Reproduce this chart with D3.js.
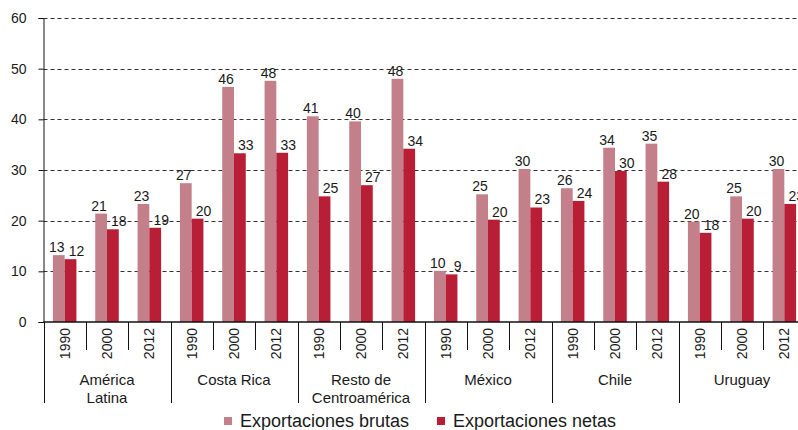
<!DOCTYPE html>
<html>
<head>
<meta charset="utf-8">
<script src="https://cdn.jsdelivr.net/npm/d3@7"></script>
<style>
  body { margin: 0; background: #fff; }
  text { font-family: "Liberation Sans", Arial, sans-serif; fill: #1a1a1a; }
</style>
</head>
<body>
<div id="chart"></div>
<script>
// data
let groups = ["América Latina", "Costa Rica", "Resto de Centroamérica", "México", "Chile", "Uruguay"];
let group_lines = [["América", "Latina"], ["Costa Rica"], ["Resto de", "Centroamérica"], ["México"], ["Chile"], ["Uruguay"]];
let years = ["1990", "2000", "2012"];
let series = ["Exportaciones brutas", "Exportaciones netas"];
let brutas = [13.2, 21.4, 23.3, 27.4, 46.4, 47.6, 40.6, 39.6, 48.0, 10.1, 25.2, 30.2, 26.4, 34.4, 35.2, 19.8, 24.8, 30.2];
let netas = [12.4, 18.3, 18.6, 20.4, 33.3, 33.4, 24.8, 27.0, 34.2, 9.4, 20.2, 22.6, 23.9, 29.8, 27.7, 17.6, 20.4, 23.3];
let y_ticks = [0, 10, 20, 30, 40, 50, 60];
let colors = ["#c4808a", "#b81e35"];

let width = 798, height = 430;
let margin = { "top": 18, "left": 43.5, "right": -7.5, "bottom": 108 };

let slots = [];
groups.forEach(function (g, gi) {
  years.forEach(function (yr, yi) {
    let i = gi * years.length + yi;
    slots.push({ "key": g + "|" + yr, "group": g, "year": yr, "values": [brutas[i], netas[i]] });
  });
});

let svg = d3.select("#chart")
  .append("svg")
    .attr("width", width)
    .attr("height", height);

let x0 = d3.scaleBand()
  .domain(slots.map(d => d.key))
  .range([margin.left, width - margin.right])
  .padding(0);

let x1 = d3.scaleBand()
  .domain(series)
  .range([0, x0.bandwidth()])
  .paddingInner(0)
  .paddingOuter(0.8);

let y = d3.scaleLinear()
  .domain([0, 60])
  .range([height - margin.bottom, margin.top]);

let y0 = y(0);

// grid
svg.append("g")
  .selectAll("line")
  .data(y_ticks.filter(t => t > 0))
  .join("line")
    .attr("x1", margin.left)
    .attr("x2", width)
    .attr("y1", d => Math.round(y(d)) + 0.5)
    .attr("y2", d => Math.round(y(d)) + 0.5)
    .attr("stroke", "#333")
    .attr("stroke-dasharray", "4,3");

// y axis
let y_axis = svg.append("g")
  .attr("transform", "translate(" + margin.left + ",0)")
  .call(d3.axisLeft(y).tickValues(y_ticks).tickSize(5).tickPadding(12).tickFormat(d3.format("d")));
y_axis.select(".domain").attr("stroke", "#111");
y_axis.selectAll(".tick line").attr("stroke", "#111");
y_axis.selectAll("text")
  .style("font-size", "14px")
  .style("font-family", "'Liberation Sans', Arial, sans-serif")
  .attr("fill", "#1a1a1a");

// bars
let slot_g = svg.append("g")
  .selectAll("g")
  .data(slots)
  .join("g")
    .attr("transform", d => "translate(" + x0(d.key) + ",0)");

slot_g.selectAll("rect")
  .data(d => d.values.map((v, i) => ({ "s": series[i], "v": v, "i": i })))
  .join("rect")
    .attr("x", d => x1(d.s))
    .attr("y", d => y(d.v))
    .attr("width", x1.bandwidth())
    .attr("height", d => y0 - y(d.v))
    .attr("fill", d => colors[d.i]);

slot_g.selectAll("text.val")
  .data(d => d.values.map((v, i) => ({ "s": series[i], "v": v, "i": i })))
  .join("text")
    .attr("class", "val")
    .attr("x", d => x1(d.s) + x1.bandwidth() / 2 + (d.i === 0 ? -2 : 6))
    .attr("y", d => y(d.v) - 3)
    .attr("text-anchor", "middle")
    .style("font-size", "14px")
    .text(d => Math.round(d.v));

// x axis line
svg.append("line")
  .attr("x1", margin.left)
  .attr("x2", width)
  .attr("y1", y0)
  .attr("y2", y0)
  .attr("stroke", "#111")
  .attr("stroke-width", 1.5);

// year ticks and labels
let step = x0.step();
svg.append("g")
  .selectAll("line")
  .data(slots.filter((d, i) => i % years.length !== 0))
  .join("line")
    .attr("x1", d => Math.round(x0(d.key)) + 0.5)
    .attr("x2", d => Math.round(x0(d.key)) + 0.5)
    .attr("y1", y0)
    .attr("y2", y0 + 28)
    .attr("stroke", "#111");

svg.append("g")
  .selectAll("line")
  .data(groups)
  .join("line")
    .attr("x1", (d, i) => Math.round(x0(slots[i * years.length].key)) + 0.5)
    .attr("x2", (d, i) => Math.round(x0(slots[i * years.length].key)) + 0.5)
    .attr("y1", y0)
    .attr("y2", y0 + 81)
    .attr("stroke", "#111");

svg.append("g")
  .selectAll("text")
  .data(slots)
  .join("text")
    .attr("transform", d => "translate(" + (x0(d.key) + step / 2) + "," + (y0 + 6) + ") rotate(-90)")
    .attr("text-anchor", "end")
    .attr("dy", "0.35em")
    .style("font-size", "14px")
    .text(d => d.year);

// group labels
svg.append("g")
  .selectAll("text")
  .data(groups)
  .join("text")
    .attr("x", (d, i) => x0(slots[i * years.length].key) + step * years.length / 2)
    .attr("y", y0 + 63)
    .attr("text-anchor", "middle")
    .style("font-size", "15px")
    .selectAll("tspan")
    .data((d, i) => group_lines[i])
    .join("tspan")
      .attr("x", function () { return d3.select(this.parentNode).attr("x"); })
      .attr("dy", (d, i) => i === 0 ? 0 : 18)
      .text(d => d);

// legend
let legend_x = [224, 437];
let legend = svg.append("g")
  .selectAll("g")
  .data(series)
  .join("g")
    .attr("transform", (d, i) => "translate(" + legend_x[i] + ",417)");
legend.append("rect")
  .attr("width", 8)
  .attr("height", 8)
  .attr("fill", (d, i) => colors[i]);
legend.append("text")
  .attr("x", 16)
  .attr("y", 10)
  .style("font-size", "18px")
  .text(d => d);
</script>
</body>
</html>
